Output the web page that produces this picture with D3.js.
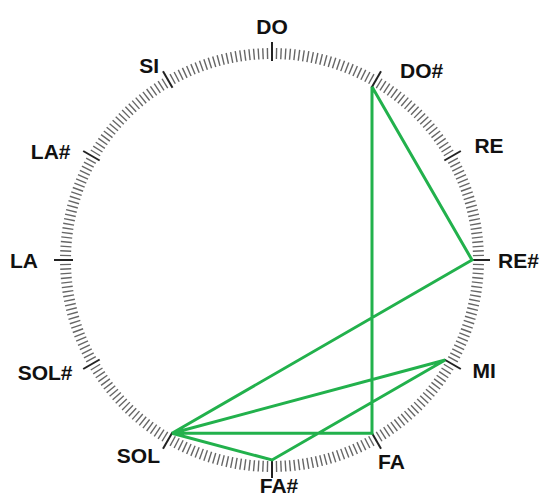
<!DOCTYPE html>
<html>
<head>
<meta charset="utf-8">
<script src="https://cdn.jsdelivr.net/npm/d3@7"></script>
<style>
  html, body { margin: 0; padding: 0; background: #fff; }
  svg { display: block; }
</style>
</head>
<body>
<svg id="rueda" width="545" height="498"></svg>
<script>
/* notas del círculo cromático, en sentido horario desde arriba */
const notas = ["DO", "DO#", "RE", "RE#", "MI", "FA", "FA#", "SOL", "SOL#", "LA", "LA#", "SI"];

/* recorrido de la melodía (línea verde) */
const recorrido = ["DO#", "RE#", "SOL", "MI", "FA#", "SOL", "FA", "DO#"];

/* subdivisiones entre dos notas (marcas finas) */
const subdivisiones = 24;

const svg = d3.select("#rueda");
const cx = 272, cy = 260;

/* ajuste fino de cada etiqueta, como en el dibujo original (px) */
const ajusteEtiqueta = {
  "DO": [0, -6], "DO#": [14, 8], "RE": [5, -1], "RE#": [-2, 0],
  "MI": [3, -4], "FA": [-8, 4], "FA#": [7, -3], "SOL": [2, -2],
  "SOL#": [-2, -2], "LA": [-6, 0], "LA#": [-4, 5], "SI": [1, 3]
};

/* índice de nota → ángulo (0 arriba, sentido horario) */
const angulo = d3.scaleLinear().domain([0, notas.length]).range([0, 2 * Math.PI]);
const polar = (a, r) => [cx + r * Math.sin(a), cy - r * Math.cos(a)];

/* ── marcas finas ── */
const totalMarcas = d3.range(notas.length * subdivisiones);
const angMarca = d3.scaleLinear().domain([0, totalMarcas.length]).range([0, 2 * Math.PI]);

svg.append("g")
  .selectAll("line")
  .data(totalMarcas.filter(i => i % subdivisiones !== 0))
  .join("line")
  .attr("x1", i => polar(angMarca(i), 201)[0])
  .attr("y1", i => polar(angMarca(i), 201)[1])
  .attr("x2", i => polar(angMarca(i), 212)[0])
  .attr("y2", i => polar(angMarca(i), 212)[1])
  .attr("stroke", "#666")
  .attr("stroke-width", 1.4);

/* ── marcas principales (una por nota) ── */
svg.append("g")
  .selectAll("line")
  .data(notas)
  .join("line")
  .attr("x1", (d, i) => polar(angulo(i), 199)[0])
  .attr("y1", (d, i) => polar(angulo(i), 199)[1])
  .attr("x2", (d, i) => polar(angulo(i), 218)[0])
  .attr("y2", (d, i) => polar(angulo(i), 218)[1])
  .attr("stroke", "#222")
  .attr("stroke-width", 2);

/* ── etiquetas ── */
svg.append("g")
  .selectAll("text")
  .data(notas)
  .join("text")
  .each(function(d, i) {
    const a = angulo(i);
    const s = Math.sin(a);
    const [x, y] = polar(a, 228);
    const [dx, dy] = ajusteEtiqueta[d] || [0, 0];
    d3.select(this)
      .attr("x", x + dx)
      .attr("y", y + dy)
      .attr("dy", "0.36em")
      .attr("text-anchor", s > 0.3 ? "start" : s < -0.3 ? "end" : "middle");
  })
  .attr("font-family", "'Liberation Sans', Arial, sans-serif")
  .attr("font-weight", "bold")
  .attr("font-size", "21px")
  .attr("fill", "#111")
  .text(d => d);

/* ── línea verde del recorrido ── */
const linea = d3.line()
  .x(d => polar(angulo(notas.indexOf(d)), 200)[0])
  .y(d => polar(angulo(notas.indexOf(d)), 200)[1]);

svg.append("path")
  .datum(recorrido)
  .attr("d", linea)
  .attr("fill", "none")
  .attr("stroke", "#22b14c")
  .attr("stroke-width", 3);
</script>
</body>
</html>
